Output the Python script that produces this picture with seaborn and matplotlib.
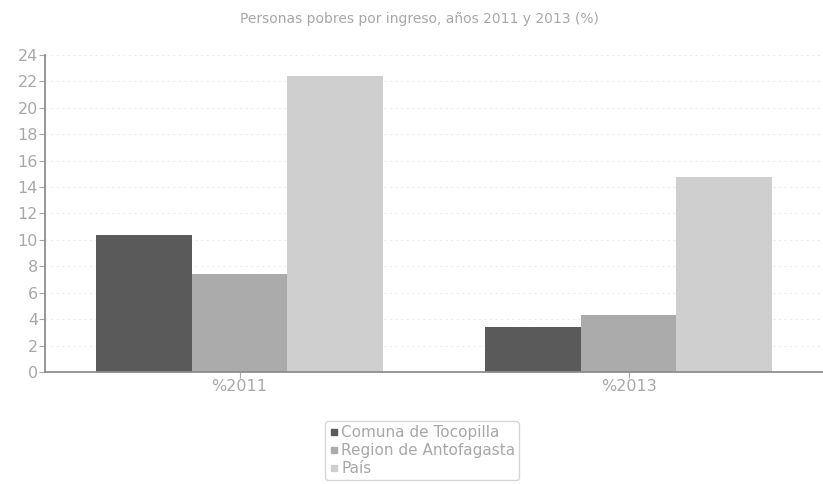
import pandas as pd
import seaborn as sns
import matplotlib.pyplot as plt

# values
categorias = ["%2011", "%2013"]
series = ["Comuna de Tocopilla", "Region de Antofagasta", "País"]
tocopilla = [10.4, 3.4]
antofagasta = [7.4, 4.3]
pais = [22.4, 14.8]
colores = ["#5a5a5a", "#ababab", "#cfcfcf"]

df = pd.DataFrame({
    "categoria": categorias * 3,
    "serie": [s for s in series for _ in categorias],
    "valor": tocopilla + antofagasta + pais,
})

sns.set_theme(style="white")
plt.rcParams["font.family"] = ["DejaVu Sans"]
txt = "#a8a8a8"

fig = plt.figure(figsize=(8.23, 4.84), dpi=100)
ax = fig.add_axes([0.0547, 0.2314, 0.9453, 0.655])

sns.barplot(data=df, x="categoria", y="valor", hue="serie", hue_order=series,
            palette=colores, width=0.74, gap=0, saturation=1, ax=ax, legend=False,
            linewidth=0, edgecolor="none")

ax.set_xlim(-0.5, 1.5)
ax.set_ylim(0, 24)
ax.set_yticks(range(0, 25, 2))
ax.set_xlabel("")
ax.set_ylabel("")
ax.yaxis.grid(True, color="#ececec", linestyle=(0, (2, 3)), linewidth=0.8)
ax.set_axisbelow(True)

for s in ["top", "right"]:
    ax.spines[s].set_visible(False)
ax.spines["left"].set_color("#8a8a8a")
ax.spines["bottom"].set_color("#8a8a8a")
ax.tick_params(axis="both", colors=txt, labelsize=11.5, length=4, width=0.8,
               direction="out", left=True, bottom=True, pad=1)
for lab in ax.get_yticklabels() + ax.get_xticklabels():
    lab.set_color(txt)

fig.suptitle("Personas pobres por ingreso, años 2011 y 2013 (%)", x=0.51, y=0.975,
             fontsize=10, color=txt)

handles = [plt.Line2D([], [], marker="s", linestyle="", markersize=4,
                      color=c) for c in colores]
leg = fig.legend(handles, series, loc="upper center", bbox_to_anchor=(0.513, 0.145),
                 frameon=True, fontsize=11, handletextpad=0.1, handlelength=0.7,
                 labelspacing=0.2, borderpad=0.25, labelcolor=txt)
leg.get_frame().set_edgecolor("#cccccc")

fig.savefig("out.png", dpi=100)
